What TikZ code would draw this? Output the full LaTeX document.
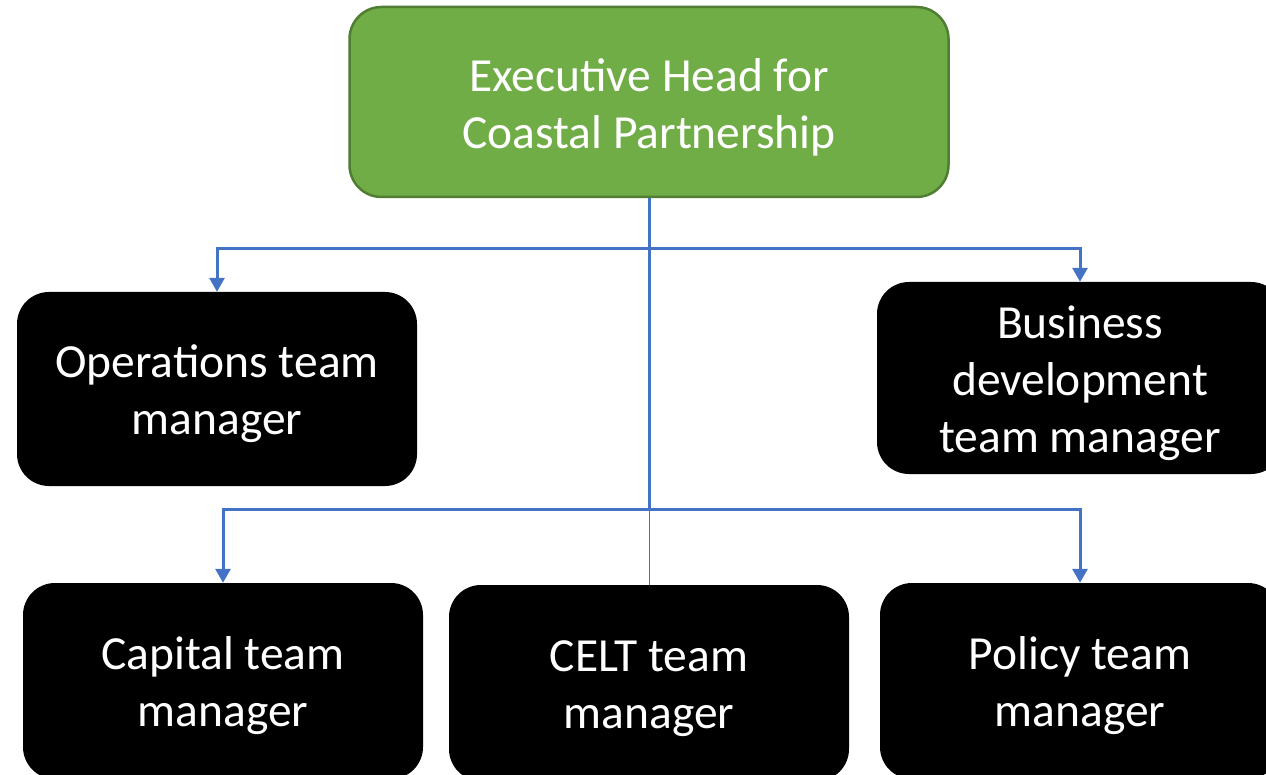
\documentclass[tikz,border=0pt]{standalone}
\usepackage{fontspec}
\setmainfont{Carlito}
\usetikzlibrary{arrows.meta}
\definecolor{headgreen}{HTML}{70AD47}
\definecolor{headborder}{HTML}{507E32}
\definecolor{linkblue}{HTML}{4472C4}
\newcommand\toprule{\rule{0pt}{43pt}}
\begin{document}
\begin{tikzpicture}[x=1pt,y=-1pt,
  box/.style={rounded corners=32pt, fill=black, text=white,
    font=\fontsize{47.5}{57}\selectfont, align=center,
    minimum width=400pt, minimum height=194pt, inner sep=0pt},
  conn/.style={draw=linkblue, line width=3pt},
  arr/.style={conn, -{Triangle[length=14pt,width=15pt]}},
  thin/.style={draw=linkblue, line width=1pt}]
\clip (0,0) rectangle (1266,775);
\node[box, fill=headgreen, draw=headborder, line width=2.5pt,
  minimum width=599pt, minimum height=190pt] (head) at (649,102)
  {\toprule Executive Head for\\Coastal Partnership};
\node[box] (ops) at (217,389) {\toprule Operations team\\manager};
\node[box, minimum width=406pt, minimum height=192pt] (biz) at (1080,378)
  {\toprule Business\\development\\team manager};
\node[box, minimum height=196pt] (cap) at (223,681) {\toprule Capital team\\manager};
\node[box, minimum height=196pt] (celt) at (649,683) {\toprule CELT team\\manager};
\node[box, minimum height=196pt] (pol) at (1080,681) {\toprule Policy team\\manager};
\path (head.south) ++(0,50) coordinate (j1) ++(0,261) coordinate (j2);
\draw[conn] (head.south) -- (j2);
\draw[arr] (j1) -| (ops.north);
\draw[arr] (j1) -| (biz.north);
\draw[arr] (j2) -| (cap.north);
\draw[arr] (j2) -| (pol.north);
\draw[thin] (j2) -- (celt.north);
\end{tikzpicture}
\end{document}
